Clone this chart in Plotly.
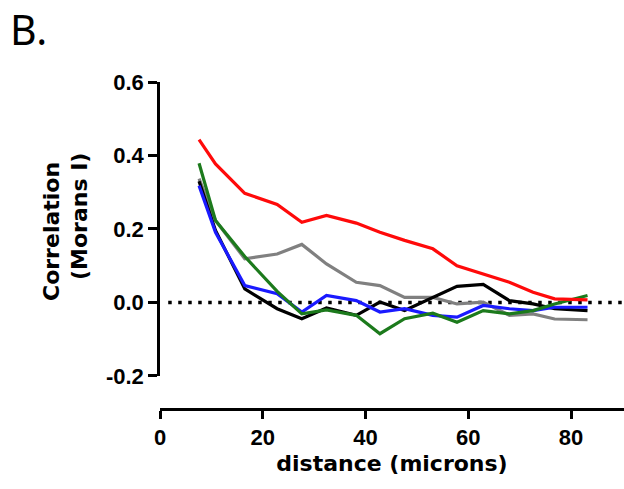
import plotly.graph_objects as go

# distance bins (microns)
distance = [7.6, 10.8, 16.5, 22.8, 27.6, 32.4, 38.2, 42.8, 47.6, 53.1, 57.8, 62.9, 68.0, 72.6, 76.8, 83.2]

gray_series  = [0.337, 0.223, 0.119, 0.132, 0.158, 0.105, 0.055, 0.046, 0.014, 0.014, -0.004, 0.001, -0.035, -0.031, -0.045, -0.047]
black_series = [0.330, 0.196, 0.037, -0.017, -0.044, -0.015, -0.035, 0.001, -0.022, 0.014, 0.044, 0.049, 0.005, -0.004, -0.017, -0.022]
blue_series  = [0.318, 0.191, 0.046, 0.024, -0.026, 0.019, 0.005, -0.026, -0.017, -0.035, -0.040, -0.008, -0.017, -0.022, -0.013, -0.013]
green_series = [0.379, 0.223, 0.125, 0.030, -0.031, -0.020, -0.035, -0.085, -0.044, -0.029, -0.054, -0.022, -0.031, -0.022, -0.004, 0.019]
red_series   = [0.443, 0.377, 0.297, 0.267, 0.218, 0.237, 0.216, 0.191, 0.169, 0.146, 0.100, 0.078, 0.055, 0.028, 0.010, 0.007]

x_ticks = [0, 20, 40, 60, 80]
y_ticks = [-0.2, 0.0, 0.2, 0.4, 0.6]
y_tick_labels = ["-0.2", "0.0", "0.2", "0.4", "0.6"]
zero_line_x = [1.6, 90.5]
zero_line_y = [0, 0]

fig = go.Figure()

fig.add_trace(go.Scatter(x=zero_line_x, y=zero_line_y, mode="lines",
                         line=dict(color="black", width=3.5, dash="3.5px,6.5px"),
                         hoverinfo="skip", showlegend=False))

series = [
    (gray_series, "#808080"),
    (black_series, "#000000"),
    (blue_series, "#1a1aff"),
    (green_series, "#1c7a1c"),
    (red_series, "#ff0a0a"),
]
for ys, col in series:
    fig.add_trace(go.Scatter(x=distance, y=ys, mode="lines",
                             line=dict(color=col, width=3.2), showlegend=False))

tick_font = dict(family="Arial, Liberation Sans", size=22, color="black", weight="bold")
title_font = dict(family="DejaVu Sans", size=22, color="black", weight="bold")

fig.update_layout(
    width=624, height=489,
    margin=dict(l=160, r=0, t=82, b=80),
    paper_bgcolor="white", plot_bgcolor="white",
    xaxis=dict(range=[0, 90.3], tickvals=x_ticks, ticks="outside", ticklen=8, tickwidth=2.5,
               showline=True, linewidth=2.5, linecolor="black", tickcolor="black",
               showgrid=False, zeroline=False, anchor="free", position=0,
               tickfont=tick_font,
               title=dict(text="distance (microns)", font=title_font, standoff=6)),
    yaxis=dict(range=[-0.2, 0.6], tickvals=y_ticks, ticktext=y_tick_labels, domain=[0.101, 1],
               ticks="outside", ticklen=9, tickwidth=2.5,
               showline=True, linewidth=2.5, linecolor="black", tickcolor="black",
               showgrid=False, zeroline=False, tickfont=tick_font),
    annotations=[
        dict(text="Correlation", xref="paper", yref="paper",
             x=(51 - 160) / 464, y=(409 - 232) / 327, textangle=-90,
             showarrow=False, font=title_font, xanchor="center", yanchor="middle"),
        dict(text="(Morans I)", xref="paper", yref="paper",
             x=(79 - 160) / 464, y=(409 - 217) / 327, textangle=-90,
             showarrow=False, font=title_font, xanchor="center", yanchor="middle"),
        dict(text="B.", xref="paper", yref="paper",
             x=(8 - 160) / 464, y=(409 - 29) / 327,
             showarrow=False, font=dict(family="Noto Sans", size=41, color="black"),
             xanchor="left", yanchor="middle"),
    ],
)

fig.write_html("out.html")
